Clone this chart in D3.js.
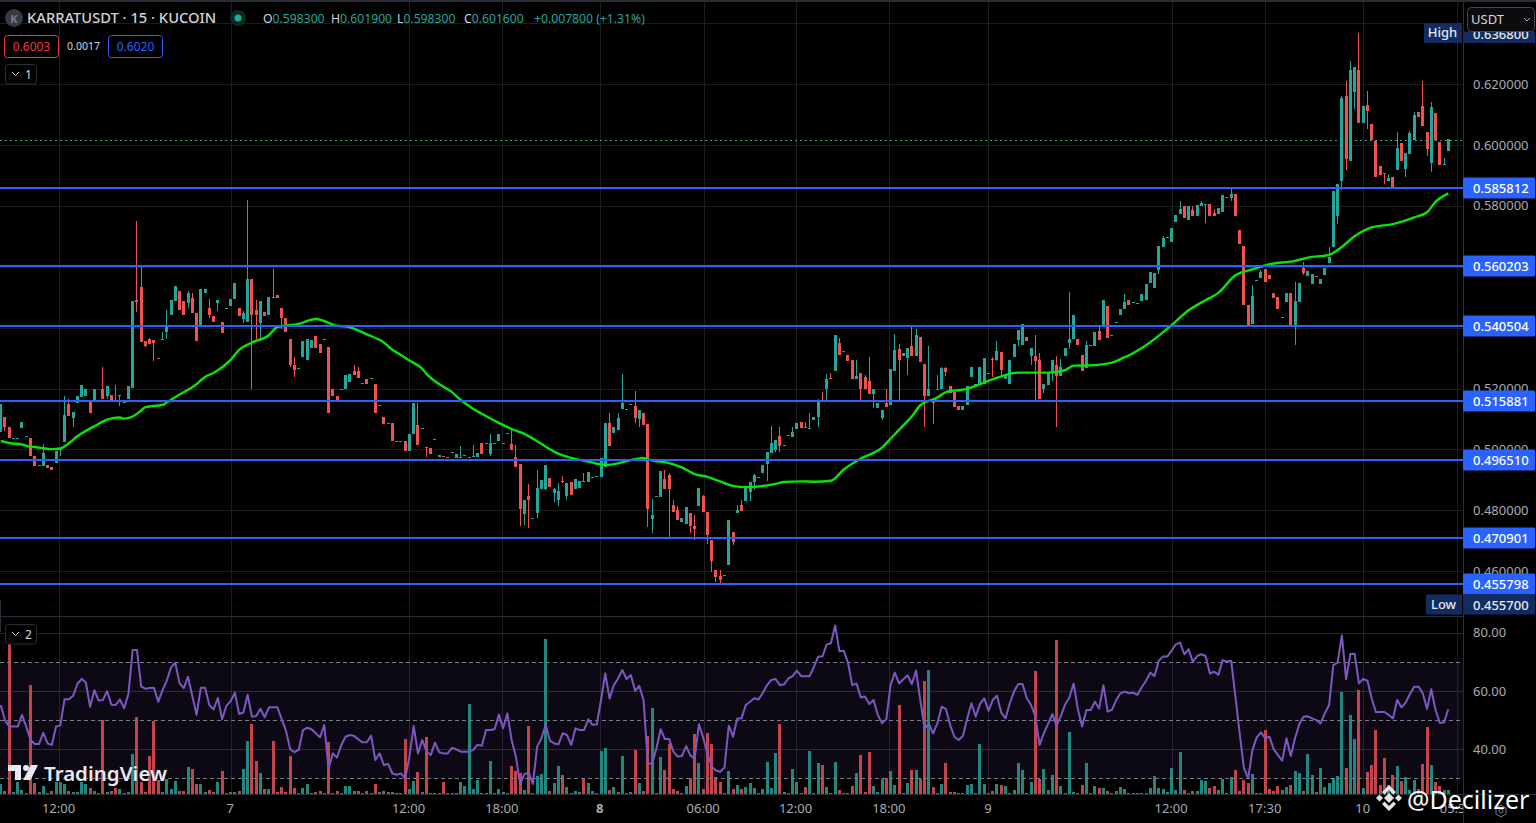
<!DOCTYPE html>
<html>
<head>
<meta charset="utf-8">
<title>KARRATUSDT</title>
<script src="https://cdn.jsdelivr.net/npm/d3@7"></script>
<style>
  html, body { margin: 0; background: #000; overflow: hidden; }
  svg { display: block; font-family: "Noto Sans", sans-serif; }
</style>
</head>
<body>
<svg id="chart" width="1536" height="823"></svg>
<script>
// 15 minute candles
let opens = [
  .5056,.5108,.5075,.5037,.5037,.5069,.5043,.5039,.4979,.4948,
  .4947,.4950,.4943,.4954,.5001,.5023,.5150,.5102,.5151,.5171,
  .5174,.5157,.5160,.5162,.5199,.5174,.5180,.5163,.5174,.5156,
  .5164,.5203,.5489,.5532,.5355,.5364,.5358,.5301,.5360,.5384,
  .5443,.5486,.5519,.5486,.5480,.5496,.5447,.5407,.5512,.5463,
  .5437,.5480,.5420,.5462,.5470,.5493,.5463,.5427,.5417,.5559,
  .5457,.5414,.5450,.5440,.5499,.5506,.5466,.5433,.5361,.5276,
  .5267,.5305,.5295,.5332,.5371,.5345,.5362,.5335,.5197,.5177,
  .5198,.5197,.5220,.5259,.5259,.5218,.5230,.5235,.5216,.5146,
  .5105,.5087,.5088,.5028,.5028,.5026,.4996,.5049,.5081,.5068,
  .5008,.5006,.5034,.4976,.4979,.4974,.4992,.4973,.4974,.4979,
  .4975,.4977,.4976,.5022,.5021,.4986,.5021,.5029,.5021,.5054,
  .5019,.4976,.4953,.4789,.4848,.4774,.4792,.4871,.4871,.4907,
  .4858,.4835,.4897,.4848,.4894,.4871,.4874,.4897,.4894,.4910,
  .4912,.4910,.4943,.5088,.5055,.5065,.5134,.5133,.5149,.5141,
  .5101,.5121,.5085,.4772,.4846,.4845,.4904,.4917,.4818,.4802,
  .4762,.4756,.4792,.4749,.4815,.4848,.4795,.4703,.4604,.4585,
  .4587,.4621,.4729,.4792,.4818,.4831,.4861,.4894,.4909,.4924,
  .4953,.4989,.4999,.5045,.5014,.5047,.5042,.5068,.5089,.5075,
  .5070,.5095,.5105,.5159,.5197,.5235,.5256,.5348,.5321,.5309,
  .5293,.5230,.5250,.5237,.5223,.5181,.5135,.5102,.5154,.5145,
  .5256,.5329,.5306,.5299,.5339,.5306,.5368,.5279,.5174,.5164,
  .5198,.5197,.5266,.5207,.5187,.5141,.5131,.5145,.5237,.5214,
  .5214,.5214,.5251,.5296,.5293,.5319,.5230,.5214,.5302,.5358,
  .5342,.5368,.5306,.5306,.5293,.5200,.5210,.5250,.5276,.5240,
  .5306,.5348,.5362,.5362,.5309,.5266,.5341,.5339,.5388,.5407,
  .5470,.5376,.5419,.5440,.5460,.5490,.5482,.5480,.5488,.5490,
  .5546,.5529,.5589,.5664,.5696,.5681,.5747,.5773,.5799,.5753,
  .5786,.5766,.5799,.5805,.5806,.5776,.5773,.5779,.5827,.5825,
  .5839,.5720,.5668,.5473,.5411,.5554,.5562,.5592,.5572,.5513,
  .5500,.5433,.5483,.5513,.5408,.5483,.5595,.5569,.5543,.5571,
  .5543,.5572,.5612,.5664,.5766,.5881,.6161,.5947,.6174,.6247,
  .6072,.6131,.6069,.6013,.5931,.5907,.5881,.5895,.5918,.6006,
  .5921,.5970,.6016,.6108,.6128,.6042,.5941,.6105,.6010,.5937,.5980
];
let closes = [
  .5150,.5073,.5037,.5038,.5038,.5091,.5044,.4977,.4947,.4949,
  .4989,.4940,.4931,.4996,.5002,.5114,.5111,.5124,.5174,.5210,
  .5197,.5121,.5200,.5163,.5164,.5207,.5160,.5162,.5180,.5157,
  .5207,.5486,.5483,.5352,.5341,.5347,.5348,.5300,.5361,.5410,
  .5489,.5535,.5457,.5440,.5512,.5447,.5355,.5526,.5526,.5440,
  .5417,.5489,.5381,.5463,.5493,.5545,.5437,.5447,.5559,.5443,
  .5440,.5486,.5437,.5499,.5498,.5496,.5430,.5384,.5276,.5262,
  .5268,.5355,.5364,.5358,.5332,.5318,.5363,.5121,.5177,.5157,
  .5199,.5243,.5249,.5243,.5233,.5219,.5216,.5236,.5121,.5147,
  .5082,.5088,.5029,.5027,.5029,.4996,.5052,.5154,.5016,.5069,
  .5007,.4986,.5035,.4983,.4978,.4975,.4993,.4986,.4975,.4980,
  .4976,.4978,.4989,.4986,.5022,.5022,.5022,.5052,.5022,.5055,
  .4999,.4943,.4805,.4835,.4835,.4775,.4874,.4901,.4950,.4877,
  .4871,.4864,.4896,.4891,.4851,.4904,.4897,.4896,.4927,.4911,
  .4913,.4973,.5088,.5012,.5072,.5104,.5154,.5132,.5150,.5104,
  .5128,.5081,.4805,.4785,.4847,.4930,.4871,.4871,.4795,.4769,
  .4775,.4812,.4749,.4739,.4874,.4795,.4720,.4634,.4581,.4572,
  .4588,.4769,.4697,.4802,.4799,.4877,.4894,.4917,.4910,.4950,
  .4993,.5022,.5032,.5012,.5015,.5048,.5058,.5088,.5069,.5074,
  .5071,.5108,.5161,.5158,.5230,.5234,.5375,.5309,.5322,.5289,
  .5230,.5240,.5197,.5200,.5181,.5197,.5154,.5131,.5138,.5263,
  .5325,.5293,.5316,.5332,.5306,.5375,.5286,.5174,.5200,.5154,
  .5199,.5266,.5253,.5184,.5138,.5128,.5141,.5207,.5270,.5215,
  .5270,.5299,.5252,.5295,.5322,.5260,.5246,.5293,.5345,.5391,
  .5411,.5355,.5332,.5289,.5164,.5214,.5250,.5293,.5240,.5270,
  .5332,.5362,.5441,.5342,.5256,.5342,.5342,.5385,.5358,.5490,
  .5365,.5377,.5420,.5460,.5483,.5473,.5483,.5479,.5510,.5543,
  .5584,.5579,.5668,.5694,.5697,.5727,.5769,.5789,.5760,.5799,
  .5766,.5802,.5809,.5806,.5766,.5766,.5793,.5835,.5828,.5839,
  .5766,.5674,.5473,.5408,.5503,.5555,.5582,.5549,.5559,.5497,
  .5460,.5434,.5513,.5408,.5487,.5546,.5579,.5585,.5575,.5570,
  .5559,.5595,.5631,.5848,.5871,.6154,.5954,.6247,.6256,.6072,
  .6128,.6112,.6016,.5895,.5901,.5906,.5891,.5862,.5990,.5947,
  .5973,.6039,.6098,.6092,.6062,.5987,.6125,.6016,.5934,.5938,.6020
];
let highs = [
  .5150,.5108,.5075,.5038,.5038,.5091,.5044,.5039,.4979,.4949,
  .5019,.4950,.4943,.4996,.5002,.5174,.5166,.5124,.5174,.5210,
  .5197,.5157,.5200,.5163,.5272,.5207,.5180,.5210,.5180,.5157,
  .5207,.5486,.5749,.5601,.5355,.5367,.5358,.5301,.5387,.5457,
  .5489,.5535,.5519,.5486,.5519,.5512,.5447,.5526,.5526,.5493,
  .5437,.5489,.5420,.5463,.5493,.5545,.5463,.5453,.5818,.5559,
  .5489,.5486,.5450,.5499,.5591,.5506,.5466,.5433,.5361,.5302,
  .5268,.5355,.5364,.5358,.5371,.5345,.5363,.5335,.5197,.5177,
  .5199,.5243,.5249,.5276,.5269,.5219,.5230,.5236,.5216,.5147,
  .5105,.5088,.5088,.5028,.5029,.5026,.5052,.5154,.5154,.5069,
  .5008,.5006,.5035,.4983,.4979,.4975,.4993,.4986,.5012,.4980,
  .4976,.5016,.4989,.5022,.5022,.5049,.5022,.5052,.5022,.5055,
  .5065,.5016,.4953,.4835,.4887,.4775,.4933,.4901,.4950,.4907,
  .4874,.4891,.4914,.4891,.4894,.4904,.4897,.4924,.4927,.4911,
  .4913,.4973,.5088,.5118,.5072,.5118,.5246,.5133,.5150,.5193,
  .5128,.5121,.5085,.4838,.4847,.4930,.4933,.4924,.4835,.4815,
  .4775,.4812,.4792,.4785,.4874,.4851,.4795,.4703,.4604,.4604,
  .4588,.4769,.4729,.4818,.4835,.4877,.4894,.4920,.4910,.4950,
  .4993,.5078,.5032,.5072,.5015,.5048,.5072,.5088,.5089,.5089,
  .5121,.5108,.5164,.5187,.5246,.5250,.5375,.5365,.5322,.5309,
  .5293,.5293,.5250,.5243,.5302,.5197,.5154,.5131,.5197,.5263,
  .5378,.5345,.5316,.5332,.5408,.5395,.5368,.5279,.5339,.5164,
  .5243,.5269,.5269,.5207,.5187,.5141,.5141,.5207,.5270,.5215,
  .5270,.5299,.5252,.5302,.5355,.5319,.5246,.5293,.5345,.5391,
  .5411,.5368,.5332,.5375,.5316,.5214,.5250,.5293,.5306,.5296,
  .5332,.5516,.5441,.5362,.5309,.5355,.5342,.5385,.5408,.5490,
  .5470,.5377,.5420,.5460,.5509,.5490,.5483,.5480,.5510,.5543,
  .5584,.5579,.5668,.5700,.5697,.5727,.5769,.5816,.5799,.5799,
  .5799,.5802,.5816,.5806,.5806,.5789,.5793,.5835,.5828,.5858,
  .5839,.5720,.5668,.5473,.5539,.5555,.5589,.5592,.5572,.5513,
  .5500,.5434,.5513,.5513,.5549,.5546,.5615,.5585,.5575,.5571,
  .5559,.5595,.5664,.5848,.5871,.6161,.6210,.6276,.6256,.6368,
  .6128,.6177,.6069,.6013,.5931,.5907,.5904,.5895,.6043,.6006,
  .5973,.6046,.6108,.6108,.6210,.6042,.6141,.6105,.6010,.5957,.6020
];
let lows = [
  .5056,.5062,.5037,.5037,.5037,.5069,.5043,.4977,.4944,.4948,
  .4947,.4940,.4931,.4954,.4977,.5023,.5111,.5073,.5151,.5171,
  .5174,.5121,.5160,.5162,.5164,.5167,.5160,.5162,.5144,.5156,
  .5164,.5203,.5451,.5352,.5335,.5347,.5289,.5300,.5360,.5361,
  .5443,.5486,.5457,.5440,.5463,.5447,.5355,.5407,.5512,.5433,
  .5417,.5453,.5381,.5462,.5470,.5493,.5437,.5414,.5417,.5200,
  .5361,.5364,.5437,.5440,.5498,.5496,.5396,.5384,.5269,.5239,
  .5267,.5305,.5295,.5332,.5332,.5318,.5362,.5121,.5177,.5157,
  .5198,.5197,.5220,.5243,.5233,.5218,.5216,.5235,.5121,.5146,
  .5082,.5087,.5029,.5027,.5028,.4996,.4996,.5049,.5016,.5068,
  .4976,.4986,.5034,.4976,.4978,.4974,.4992,.4973,.4974,.4979,
  .4975,.4977,.4976,.4986,.5021,.4979,.5021,.5029,.5021,.5054,
  .4999,.4943,.4749,.4753,.4743,.4774,.4776,.4871,.4868,.4877,
  .4828,.4815,.4891,.4835,.4851,.4871,.4874,.4896,.4894,.4910,
  .4912,.4910,.4943,.5012,.5055,.5065,.5134,.5132,.5149,.5088,
  .5075,.5081,.4746,.4726,.4846,.4845,.4871,.4713,.4795,.4769,
  .4762,.4756,.4726,.4703,.4815,.4795,.4690,.4598,.4565,.4555,
  .4587,.4621,.4687,.4792,.4799,.4831,.4831,.4868,.4909,.4924,
  .4897,.4989,.4993,.4993,.5014,.5047,.5042,.5068,.5069,.5074,
  .5070,.5095,.5072,.5158,.5161,.5234,.5256,.5309,.5321,.5289,
  .5230,.5230,.5161,.5200,.5181,.5135,.5135,.5098,.5138,.5145,
  .5256,.5161,.5306,.5243,.5306,.5306,.5286,.5072,.5174,.5082,
  .5198,.5197,.5240,.5184,.5138,.5128,.5131,.5145,.5237,.5214,
  .5214,.5214,.5251,.5237,.5289,.5237,.5230,.5214,.5302,.5339,
  .5342,.5355,.5276,.5161,.5164,.5184,.5210,.5223,.5072,.5240,
  .5306,.5329,.5362,.5342,.5256,.5266,.5341,.5339,.5358,.5407,
  .5365,.5376,.5419,.5440,.5460,.5473,.5482,.5479,.5488,.5490,
  .5546,.5529,.5575,.5664,.5696,.5681,.5747,.5773,.5760,.5753,
  .5766,.5766,.5799,.5743,.5766,.5766,.5773,.5779,.5827,.5816,
  .5766,.5674,.5473,.5408,.5411,.5554,.5562,.5549,.5559,.5497,
  .5460,.5433,.5483,.5408,.5342,.5483,.5572,.5569,.5543,.5570,
  .5543,.5572,.5612,.5664,.5740,.5852,.5918,.5947,.6118,.6072,
  .6072,.6052,.6016,.5895,.5901,.5871,.5881,.5862,.5918,.5947,
  .5895,.5970,.6016,.6092,.6062,.5964,.5911,.6016,.5934,.5937,.5980
];
// volume in the lower pane (no scale shown, relative units)
let volumes = [
  30,9,454,6,37,12,4,327,34,6, 24,4,9,36,36,30,9,6,6,36,
  30,18,9,4,222,6,9,18,15,4, 6,120,231,36,6,115,219,42,6,45,
  15,39,9,9,81,75,30,30,6,12, 6,36,69,4,6,6,9,75,159,210,
  99,63,15,15,159,6,21,6,114,18, 2,18,30,3,6,9,4,156,3,9,
  3,24,24,9,9,4,9,3,30,6, 9,6,6,3,3,165,15,39,66,6,
  171,3,3,3,36,3,3,3,36,24, 270,15,42,3,3,99,3,15,6,3,
  84,69,63,12,204,2,54,60,465,9, 33,84,57,21,3,9,6,48,33,9,
  3,129,138,12,21,6,114,3,6,132, 33,9,174,258,3,111,72,150,15,9,
  3,24,48,180,93,15,183,150,51,36, 3,69,15,27,15,21,33,18,3,15,
  96,18,123,210,6,3,75,36,3,21, 129,3,93,87,21,3,96,12,3,3,
  24,63,117,6,126,24,6,45,48,69, 27,267,3,33,72,72,45,339,372,21,
  3,30,93,6,6,3,3,27,30,3, 150,30,3,9,30,27,24,3,12,93,
  72,3,36,369,45,75,12,57,462,24, 3,186,6,3,27,93,3,24,18,18,
  9,3,9,21,15,3,3,3,3,3, 18,54,18,15,6,78,12,126,12,3,
  9,9,42,39,18,24,12,45,3,51, 72,9,42,33,60,3,3,192,15,9,
  24,12,21,27,69,63,9,120,57,6, 78,21,33,48,54,306,78,237,165,312,
  18,66,87,192,27,108,27,57,84,39, 51,12,42,15,90,201,87,36,24,12,12
];
let rsiValues = [
  55.2,50.0,47.8,47.8,47.8,51.8,47.8,43.2,41.8,41.8,
  45.7,42.0,41.5,47.8,48.2,57.2,57.2,58.3,62.4,64.2,
  62.9,54.6,60.3,56.7,56.9,59.9,55.3,55.2,57.1,54.1,
  59.0,74.1,74.1,61.5,60.8,61.0,61.1,56.3,60.3,63.5,
  68.1,69.7,62.6,61.0,64.9,58.3,51.8,61.1,61.1,55.2,
  53.7,57.6,50.3,54.9,56.5,59.4,52.1,52.6,58.7,51.2,
  51.4,53.9,51.0,54.4,54.4,54.4,50.3,46.4,40.0,39.0,
  39.8,46.6,47.4,46.9,45.5,44.1,48.3,33.5,38.6,37.2,
  41.5,44.3,44.9,44.6,43.4,42.4,42.4,44.7,36.3,38.6,
  34.6,35.0,31.7,31.3,31.7,30.0,37.5,48.0,38.6,43.2,
  39.4,38.0,42.3,39.0,38.6,38.6,40.5,40.0,39.2,39.2,
  39.2,39.8,41.6,41.2,46.6,46.6,46.9,51.9,47.2,52.3,
  43.2,37.5,28.1,31.5,32.1,28.1,40.9,43.8,48.3,43.0,
  42.0,41.7,45.5,44.9,41.5,47.2,46.6,46.6,50.3,48.4,
  48.5,56.9,66.0,57.4,62.0,64.3,67.2,64.1,65.5,60.1,
  61.7,56.7,35.2,35.0,40.3,46.9,43.5,43.5,39.2,37.5,
  37.7,41.1,37.8,36.9,48.6,44.0,38.6,34.0,32.7,32.3,
  33.8,48.1,44.3,50.6,50.6,55.2,56.3,57.5,57.1,59.4,
  62.0,63.8,64.1,62.0,62.3,64.3,65.1,67.0,65.1,65.1,
  65.1,68.3,71.8,71.8,76.0,76.4,82.5,73.6,73.8,69.8,
  62.0,62.6,57.8,58.1,55.5,56.9,51.8,48.9,50.3,62.0,
  66.3,62.6,64.0,65.4,62.4,67.0,56.7,47.2,48.7,45.5,
  48.9,54.6,53.8,48.3,44.3,43.2,44.6,50.6,55.8,51.2,
  55.5,57.5,53.2,56.9,58.4,52.6,50.6,55.8,59.8,62.4,
  62.4,57.5,55.2,51.4,41.5,45.5,48.7,52.1,48.1,51.4,
  55.4,57.8,62.6,53.7,47.8,53.5,53.5,56.3,54.0,62.0,
  52.9,53.5,56.9,59.2,59.8,59.2,59.4,58.7,61.3,63.5,
  66.3,65.1,70.4,71.8,71.8,73.8,76.0,76.6,72.6,74.3,
  70.1,72.0,72.6,72.0,66.0,66.6,65.6,70.6,70.1,70.4,
  58.1,45.5,33.5,30.0,39.8,44.1,45.8,43.8,44.3,40.0,
  38.0,36.1,43.8,37.7,43.8,48.7,51.2,51.3,50.6,50.0,
  48.9,52.3,55.2,68.9,69.7,79.1,64.1,72.7,72.8,62.6,
  64.1,63.5,57.5,52.7,52.8,52.8,51.8,50.6,56.9,54.4,
  56.0,59.0,61.5,61.5,59.2,53.8,60.6,53.5,49.1,49.2,53.8
];
// moving average, sampled at these bars
let maBars = [
  0,2,5,7,9,12,14,16,18,22,25,28,29,31,33,34,38,39,42,46,48,50,54,56,59,63,65,70,74,79,82,86,90,92,94,
  96,99,100,102,104,106,108,111,113,117,120,123,126,128,131,134,138,142,145,148,151,153,156,160,163,166,169,172,175,179,182,184,188,
  191,195,198,202,207,209,212,214,216,220,222,227,232,235,239,246,250,252,256,261,264,
  265,269,275,279,283,286,290,294,298,304,307,312,315,318,322,327,332,335,337,340
];
let maPrices = [
  .5028,.5021,.5016,.5009,.5006,.5001,.5003,.5020,.5043,.5076,.5098,.5105,.5101,.5108,.5128,.5139,.5146,.5154,.5180,.5214,.5238,.5251,.5294,.5327,.5351,.5375,.5402,.5412,.5428,.5406,.5401,.5378,.5351,.5327,.5310,
  .5292,.5265,.5248,.5224,.5206,.5188,.5163,.5133,.5117,.5087,.5067,.5051,.5027,.5009,.4986,.4972,.4960,.4949,.4954,.4965,.4972,.4963,.4958,.4941,.4919,.4910,.4895,.4880,.4876,.4880,.4887,.4893,.4895,
  .4894,.4897,.4934,.4970,.5006,.5035,.5079,.5108,.5145,.5170,.5188,.5199,.5225,.5240,.5252,.5252,.5260,.5275,.5276,.5285,.5303,
  .5309,.5342,.5408,.5457,.5490,.5514,.5572,.5591,.5608,.5619,.5630,.5639,.5665,.5700,.5729,.5740,.5762,.5779,.5813,.5841
];
let levelPrices = [0.585812, 0.560203, 0.540504, 0.515881, 0.496510, 0.470901, 0.455798];
let priceGrid = [0.64, 0.62, 0.60, 0.58, 0.56, 0.54, 0.52, 0.50, 0.48, 0.46];
let priceLabels = [0.62, 0.60, 0.58, 0.52, 0.50, 0.48, 0.46];
let rsiTicks = [80, 60, 40];
let rsiGuides = [70, 50, 30];
let timeTickBars = [13.7, 54, 95.9, 117.8, 140.8, 165.1, 186.8, 208.7, 232, 275, 297, 320, 342];
let timeTickLabels = ["12:00", "7", "12:00", "18:00", "8", "06:00", "12:00", "18:00", "9", "12:00", "17:30", "10", "05:30"];
let lastPrice = 0.6016, highPrice = 0.6368, lowPrice = 0.4557;

const paneRight = 1463, width = 1536, height = 823;
const volBase = 794;
const TEAL = "#26a69a", RED = "#ef5350", BLUE = "#2962ff", NAVY = "#132c5f";

let svg = d3.select("#chart");

let x = d3.scaleLinear().domain([0, 340]).range([0.7, 1448.3]);
let y = d3.scaleLinear().domain([0.62, 0.46]).range([84, 571.2]);
let rsiY = d3.scaleLinear().domain([80, 40]).range([632.7, 749.3]);
let volY = d3.scaleLinear().domain([0, 300]).range([volBase, volBase - 100]);

svg.append("defs").append("clipPath").attr("id", "mainClip")
  .append("rect").attr("width", paneRight).attr("height", 616);

// grid
let grid = svg.append("g").attr("stroke", "#1d1d20").attr("shape-rendering", "crispEdges");
grid.selectAll(".h").data(priceGrid).join("line")
  .attr("x1", 0).attr("x2", paneRight)
  .attr("y1", d => Math.round(y(d)) + 0.5).attr("y2", d => Math.round(y(d)) + 0.5);
grid.selectAll(".v").data(timeTickBars).join("line")
  .attr("y1", 0).attr("y2", volBase)
  .attr("x1", d => Math.round(x(d)) + 0.5).attr("x2", d => Math.round(x(d)) + 0.5);

// rsi background band
svg.append("rect")
  .attr("x", 0).attr("width", paneRight)
  .attr("y", rsiY(70)).attr("height", rsiY(30) - rsiY(70))
  .attr("fill", "#7e57c2").attr("fill-opacity", 0.1);

grid.append("g").selectAll("line").data(rsiTicks).join("line")
  .attr("x1", 0).attr("x2", paneRight)
  .attr("stroke", "#26262c")
  .attr("y1", d => Math.round(rsiY(d)) + 0.5).attr("y2", d => Math.round(rsiY(d)) + 0.5);

// volume
let isUp = i => closes[i] >= opens[i];
svg.append("g").attr("shape-rendering", "crispEdges")
  .selectAll("rect").data(volumes).join("rect")
  .attr("x", (d, i) => Math.round(x(i) - 1.5))
  .attr("width", 3)
  .attr("y", d => Math.round(volY(d)))
  .attr("height", d => volBase - Math.round(volY(d)))
  .attr("fill", (d, i) => isUp(i) ? "#22877e" : "#c5434a");

// rsi guides and line
svg.append("g").selectAll("line").data(rsiGuides).join("line")
  .attr("x1", 0).attr("x2", paneRight)
  .attr("y1", d => Math.round(rsiY(d)) + 0.5).attr("y2", d => Math.round(rsiY(d)) + 0.5)
  .attr("stroke", "#787b86").attr("stroke-dasharray", "4 3").attr("stroke-width", 1);

svg.append("path").datum(rsiValues)
  .attr("fill", "none").attr("stroke", "#7e57c2").attr("stroke-width", 2)
  .attr("stroke-linejoin", "round")
  .attr("d", d3.line().x((d, i) => x(i)).y(d => rsiY(d)));

// candles
let main = svg.append("g").attr("clip-path", "url(#mainClip)");
let candles = main.append("g").attr("shape-rendering", "crispEdges")
  .selectAll("g").data(d3.range(opens.length)).join("g")
  .attr("fill", i => isUp(i) ? TEAL : RED);
candles.append("rect")
  .attr("x", i => Math.round(x(i) - 1.5) + 1).attr("width", 1)
  .attr("y", i => Math.round(y(highs[i])))
  .attr("height", i => Math.max(1, Math.round(y(lows[i])) - Math.round(y(highs[i]))));
candles.append("rect")
  .attr("x", i => Math.round(x(i) - 1.5)).attr("width", 3)
  .attr("y", i => Math.round(y(Math.max(opens[i], closes[i]))))
  .attr("height", i => Math.max(1, Math.round(y(Math.min(opens[i], closes[i]))) - Math.round(y(Math.max(opens[i], closes[i])))));

// last price line
main.append("line")
  .attr("x1", 0).attr("x2", paneRight)
  .attr("y1", Math.round(y(lastPrice)) + 0.5).attr("y2", Math.round(y(lastPrice)) + 0.5)
  .attr("stroke", TEAL).attr("stroke-dasharray", "2 3").attr("shape-rendering", "crispEdges");

// horizontal levels
svg.append("g").attr("shape-rendering", "crispEdges")
  .selectAll("line").data(levelPrices).join("line")
  .attr("x1", 0).attr("x2", paneRight)
  .attr("y1", d => Math.round(y(d))).attr("y2", d => Math.round(y(d)))
  .attr("stroke", BLUE).attr("stroke-width", 2);

// moving average
main.append("path").datum(maPrices)
  .attr("fill", "none").attr("stroke", "#08e408").attr("stroke-width", 2.4)
  .attr("stroke-linejoin", "round")
  .attr("d", d3.line().curve(d3.curveMonotoneX).x((d, i) => x(maBars[i])).y(d => y(d)));

// bottom axis
let timeAxis = d3.axisBottom(x).tickValues(timeTickBars).tickSize(0).tickPadding(0)
  .tickFormat((d, i) => timeTickLabels[i]);
let timeG = svg.append("g").attr("transform", "translate(-1,794)").call(timeAxis);
timeG.select(".domain").remove();
timeG.selectAll("text")
  .attr("y", 19).attr("dy", 0)
  .attr("font-family", "Noto Sans").attr("font-size", 13)
  .attr("fill", "#a8abb3")
  .attr("font-weight", d => d == 140.8 ? 700 : null);

// pane borders
svg.append("rect").attr("width", width).attr("height", 2).attr("fill", "#2a2e39");
svg.append("rect").attr("y", 616).attr("width", paneRight).attr("height", 1).attr("fill", "#2a2e39");
svg.append("rect").attr("y", 600).attr("width", 1).attr("height", 32).attr("fill", "#2a2e39");
svg.append("rect").attr("y", volBase).attr("width", width).attr("height", 1).attr("fill", "#2a2e39");

// price scale background clips the last time label
svg.append("rect").attr("x", paneRight).attr("y", 2).attr("width", width - paneRight).attr("height", height)
  .attr("fill", "#000");
svg.append("rect").attr("x", paneRight).attr("y", 0).attr("width", 1).attr("height", height).attr("fill", "#2a2e39");
svg.append("rect").attr("x", paneRight).attr("y", volBase).attr("width", width - paneRight).attr("height", 1).attr("fill", "#2a2e39");

// right axes
let priceAxis = d3.axisRight(y).tickValues(priceLabels).tickSize(0).tickPadding(0).tickFormat(d3.format(".6f"));
let priceG = svg.append("g").attr("transform", "translate(1473,0)").call(priceAxis);
priceG.select(".domain").remove();
priceG.selectAll("text").attr("font-family", "Noto Sans").attr("font-size", 13).attr("fill", "#a8abb3");

let rsiAxis = d3.axisRight(rsiY).tickValues(rsiTicks).tickSize(0).tickPadding(0).tickFormat(d3.format(".2f"));
let rsiG = svg.append("g").attr("transform", "translate(1473,0)").call(rsiAxis);
rsiG.select(".domain").remove();
rsiG.selectAll("text").attr("font-family", "Noto Sans").attr("font-size", 13).attr("fill", "#a8abb3");

// level labels
let levelLabels = svg.append("g").selectAll("g").data(levelPrices).join("g")
  .attr("transform", d => `translate(${paneRight},${Math.round(y(d))})`);
levelLabels.append("rect")
  .attr("y", -10.5).attr("width", 72).attr("height", 21).attr("rx", 1).attr("fill", BLUE);
levelLabels.append("text")
  .attr("x", 10).attr("dy", "0.35em").attr("font-size", 13).attr("font-weight", 500).attr("fill", "#fff")
  .text(d => d.toFixed(6));

// high and low flags
function flag(name, price, cy, labelLeft) {
  let g = svg.append("g");
  g.append("rect").attr("x", labelLeft).attr("y", cy - 10).attr("width", paneRight - labelLeft - 1).attr("height", 20).attr("fill", NAVY);
  g.append("rect").attr("x", paneRight).attr("y", cy - 10).attr("width", 72).attr("height", 20).attr("fill", NAVY);
  g.append("text").attr("x", (labelLeft + paneRight) / 2 - 1).attr("y", cy - 0.5).attr("dy", "0.35em")
    .attr("text-anchor", "middle").attr("font-size", 13).attr("font-weight", 500).attr("fill", "#e6e8ee").text(name);
  g.append("text").attr("x", paneRight + 10).attr("y", cy + 1).attr("dy", "0.35em")
    .attr("font-size", 13).attr("font-weight", 500).attr("fill", "#e6e8ee").text(price.toFixed(6));
}
flag("High", highPrice, 33, 1424);
flag("Low", lowPrice, 604.5, 1426);

// currency button
svg.append("rect").attr("x", paneRight + 1).attr("y", 2).attr("width", 72).attr("height", 29.5).attr("fill", "#000");
svg.append("rect").attr("x", 1467.5).attr("y", 7.5).attr("width", 67).attr("height", 24).attr("rx", 4)
  .attr("fill", "#0c0c0e").attr("stroke", "#434651");
svg.append("text").attr("x", 1471).attr("y", 24).attr("font-size", 13).attr("fill", "#d1d4dc").text("USDT");
svg.append("path").attr("d", "M1524 18l3 3l3 -3").attr("fill", "none").attr("stroke", "#b2b5be");

// header
let header = svg.append("g");
header.append("circle").attr("cx", 14).attr("cy", 18).attr("r", 9).attr("fill", "#363a45");
header.append("text").attr("x", 14).attr("y", 22.5).attr("text-anchor", "middle")
  .attr("font-size", 11).attr("font-weight", 700).attr("fill", "#7a7e89").text("K");
header.append("text").attr("x", 27).attr("y", 23).attr("font-size", 14.7).attr("font-weight", 500).attr("fill", "#d1d4dc")
  .text("KARRATUSDT · 15 · KUCOIN");
header.append("circle").attr("cx", 238).attr("cy", 18).attr("r", 8).attr("fill", "#0b2a26");
header.append("circle").attr("cx", 238).attr("cy", 18).attr("r", 3.5).attr("fill", "#22ab94");

let ohlcLetters = ["O", "H", "L", "C"];
let ohlcNumbers = ["0.598300", "0.601900", "0.598300", "0.601600"];
let ohlcX = [263, 331, 397, 464];
ohlcLetters.forEach((letter, i) => {
  let t = header.append("text").attr("x", ohlcX[i]).attr("y", 22.5).attr("font-size", 12.2);
  t.append("tspan").attr("fill", "#d1d4dc").text(letter);
  t.append("tspan").attr("fill", TEAL).text(ohlcNumbers[i]);
});
header.append("text").attr("x", 534).attr("y", 22.5).attr("font-size", 12.2).attr("fill", TEAL).text("+0.007800 (+1.31%)");

// sell / buy boxes
header.append("rect").attr("x", 4.5).attr("y", 35.5).attr("width", 54).attr("height", 22).attr("rx", 3)
  .attr("fill", "#000").attr("stroke", "#f23645");
header.append("text").attr("x", 31.5).attr("y", 51).attr("text-anchor", "middle").attr("font-size", 12).attr("fill", "#f23645").text("0.6003");
header.append("text").attr("x", 83.5).attr("y", 50).attr("text-anchor", "middle").attr("font-size", 10.5).attr("fill", "#d1d4dc").text("0.0017");
header.append("rect").attr("x", 108.5).attr("y", 35.5).attr("width", 54).attr("height", 22).attr("rx", 3)
  .attr("fill", "#000").attr("stroke", BLUE);
header.append("text").attr("x", 135.5).attr("y", 51).attr("text-anchor", "middle").attr("font-size", 12).attr("fill", BLUE).text("0.6020");

// collapse buttons for the panes
function paneButton(top, label) {
  let g = svg.append("g");
  g.append("rect").attr("x", 5.5).attr("y", top + 0.5).attr("width", 31).attr("height", 19.5).attr("rx", 3)
    .attr("fill", "#000").attr("stroke", "#2a2e39");
  g.append("path").attr("d", `M12 ${top + 8}l3.5 3.5l3.5 -3.5`).attr("fill", "none").attr("stroke", "#d1d4dc");
  g.append("text").attr("x", 25).attr("y", top + 15).attr("font-size", 12).attr("fill", "#d1d4dc").text(label);
}
paneButton(64, "1");
paneButton(624, "2");

// TradingView mark
let tv = svg.append("g").attr("fill", "#e9e9f0");
tv.append("path").attr("d", "M8 765h13v15h-6v-9h-7z");
tv.append("circle").attr("cx", 26).attr("cy", 768).attr("r", 3);
tv.append("path").attr("d", "M31 765h7l-7.5 15h-7.5z");
tv.append("text").attr("x", 44).attr("y", 781).attr("font-size", 20.5).attr("font-weight", 600)
  .attr("stroke", "#000").attr("stroke-width", 0.4).attr("paint-order", "stroke").text("TradingView");

// settings icon
svg.append("path").attr("d", "M1501 805l5 3v6l-5 3l-5 -3v-6z").attr("fill", "none").attr("stroke", "#787b86");
svg.append("circle").attr("cx", 1501).attr("cy", 811).attr("r", 2).attr("fill", "none").attr("stroke", "#787b86");

// watermark
let mark = svg.append("g").attr("fill", "#e4e4e4");
[[1389, 798, 5], [1379.5, 798, 3.5], [1398.5, 798, 3.5]].forEach(d => {
  mark.append("path").attr("d", `M${d[0]} ${d[1] - d[2]}l${d[2]} ${d[2]}l${-d[2]} ${d[2]}l${-d[2]} ${-d[2]}z`);
});
mark.append("path").attr("d", "M1382 792l7 -7l7 7l-2.5 2.5l-4.5 -4.5l-4.5 4.5z");
mark.append("path").attr("d", "M1382 804l7 7l7 -7l-2.5 -2.5l-4.5 4.5l-4.5 -4.5z");
svg.append("text").attr("x", 1407).attr("y", 809).attr("font-size", 25).attr("fill", "#fff").text("@Decilizer");
</script>
</body>
</html>
